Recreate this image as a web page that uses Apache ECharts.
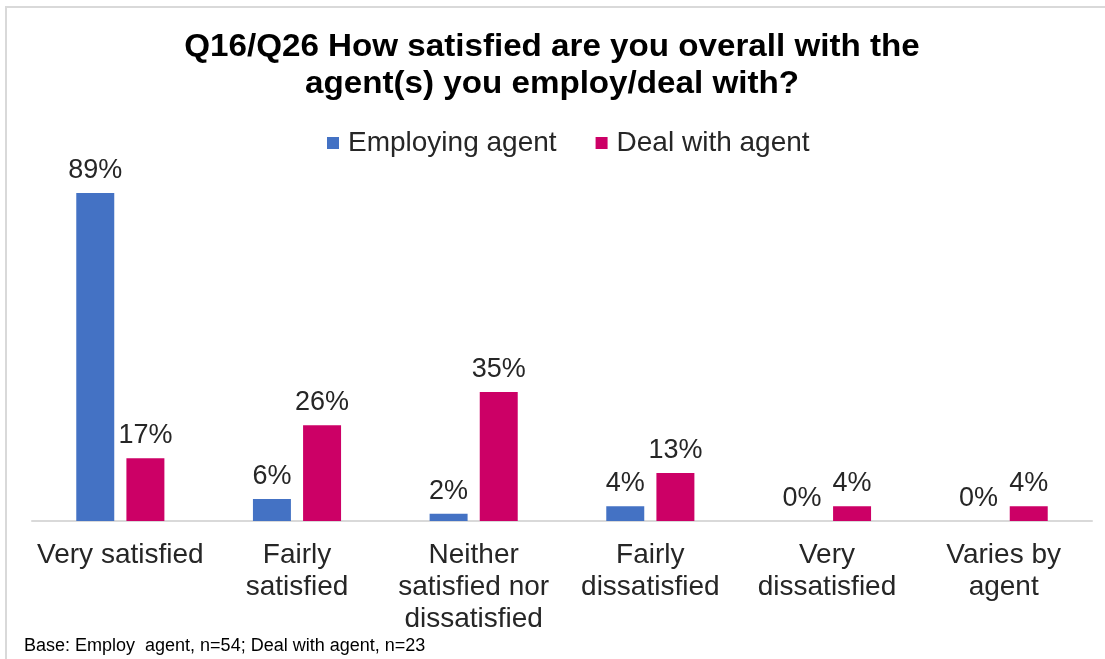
<!DOCTYPE html>
<html>
<head>
<meta charset="utf-8">
<script src="https://cdn.jsdelivr.net/npm/echarts@6/dist/echarts.min.js"></script>
<style>
  html, body { margin: 0; padding: 0; background: #ffffff; }
  #chart { width: 1105px; height: 659px; }
</style>
</head>
<body>
<div id="chart"></div>
<script>
// Satisfaction answers (x categories)
const categories = [
  'Very satisfied',
  'Fairly\nsatisfied',
  'Neither\nsatisfied nor\ndissatisfied',
  'Fairly\ndissatisfied',
  'Very\ndissatisfied',
  'Varies by\nagent'
];
const seriesNames = ['Employing agent', 'Deal with agent'];
// Percentages of respondents
const employingAgent = [89, 6, 2, 4, 0, 0];
const dealWithAgent = [17, 26, 35, 13, 4, 4];

const titleText = 'Q16/Q26 How satisfied are you overall with the\nagent(s) you employ/deal with?';
const baseNote = 'Base: Employ  agent, n=54; Deal with agent, n=23';

const FONT = 'Liberation Sans, Arial, sans-serif';

const chart = echarts.init(document.getElementById('chart'), null, { renderer: 'canvas' });

const labelStyle = {
  show: true,
  position: 'top',
  distance: 9,
  formatter: '{c}%',
  fontFamily: FONT,
  fontSize: 27,
  color: '#262626'
};

chart.setOption({
  animation: false,
  backgroundColor: '#ffffff',
  legend: {
    data: seriesNames,
    top: 124,
    left: 322,
    itemWidth: 12,
    itemHeight: 12,
    itemGap: 39,
    icon: 'rect',
    textStyle: {
      fontFamily: FONT,
      fontSize: 28,
      color: '#262626',
      padding: [0, 0, 0, 4]
    }
  },
  grid: { left: 32, right: 13, top: 152.5, bottom: 138 },
  xAxis: {
    type: 'category',
    data: categories,
    axisLine: { lineStyle: { color: '#d9d9d9', width: 2 } },
    axisTick: { show: false },
    axisLabel: {
      interval: 0,
      margin: 18,
      fontFamily: FONT,
      fontSize: 28,
      lineHeight: 32,
      color: '#262626'
    }
  },
  yAxis: {
    type: 'value',
    min: 0,
    max: 100,
    show: false
  },
  series: [
    {
      name: seriesNames[0],
      type: 'bar',
      data: employingAgent,
      barWidth: '21.5%',
      barGap: '32%',
      itemStyle: { color: '#4472c4' },
      label: labelStyle
    },
    {
      name: seriesNames[1],
      type: 'bar',
      data: dealWithAgent,
      barWidth: '21.5%',
      itemStyle: { color: '#cc0066' },
      label: labelStyle
    }
  ],
  graphic: [
    {
      type: 'rect',
      shape: { x: 6, y: 7, width: 1200, height: 800 },
      style: { fill: 'none', stroke: '#d9d9d9', lineWidth: 2 },
      silent: true
    },
    {
      type: 'text',
      x: 552,
      y: 29,
      scaleX: 1.07,
      style: {
        text: titleText,
        align: 'center',
        verticalAlign: 'top',
        fontFamily: FONT,
        fontWeight: 'bold',
        fontSize: 31,
        lineHeight: 37,
        fill: '#000000'
      }
    },
    {
      type: 'text',
      x: 24,
      y: 637,
      style: {
        text: baseNote,
        fontFamily: FONT,
        fontSize: 18,
        fill: '#000000'
      }
    }
  ]
});
</script>
</body>
</html>
